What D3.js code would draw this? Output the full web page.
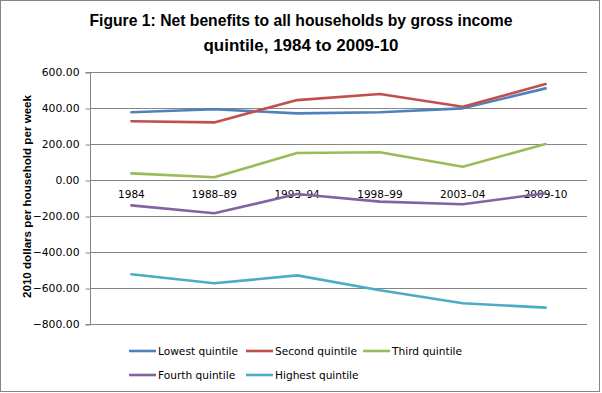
<!DOCTYPE html>
<html><head><meta charset="utf-8">
<script src="https://cdn.jsdelivr.net/npm/d3@7"></script>
<style>body{margin:0;background:#fff}svg{display:block}</style>
</head><body><svg id="c" width="602" height="393"></svg>
<script>
const categories = ["1984","1988–89","1993–94","1998–99","2003–04","2009-10"];
const seriesNames = ["Lowest quintile","Second quintile","Third quintile","Fourth quintile","Highest quintile"];
const lowest  = [376, 393, 370, 376, 398, 509];
const second  = [326, 320, 444, 478, 407, 533];
const third   = [37, 15, 150, 154, 74, 200];
const fourth  = [-141, -185, -78, -120, -135, -74];
const highest = [-524, -574, -530, -612, -685, -709];
const yTicks = [600, 400, 200, 0, -200, -400, -600, -800];
const colors = ["#4F81BD","#C0504D","#9BBB59","#8064A2","#4BACC6"];
const titleLines = ["Figure 1: Net benefits to all households by gross income","quintile, 1984 to 2009-10"];
const yTitle = "2010 dollars  per household  per week";

const series = [lowest, second, third, fourth, highest];
const svg = d3.select("#c");
const W = 602, H = 393;
const L = 90, R = 587, T = 72, B = 324;

svg.append("rect").attr("x",0.5).attr("y",0.5).attr("width",599).attr("height",391)
  .attr("fill","#fff").attr("stroke","#868686");

const x = d3.scaleBand().domain(categories).range([L, R]);
const y = d3.scaleLinear().domain([-800, 600]).range([B, T]);

// gridlines
svg.append("g").selectAll("line").data(yTicks).join("line")
  .attr("x1", L).attr("x2", R)
  .attr("y1", d => Math.round(y(d)) + 0.5).attr("y2", d => Math.round(y(d)) + 0.5)
  .attr("stroke", "#868686").attr("stroke-width", 1);

// y axis
const yAxis = d3.axisLeft(y).tickValues(yTicks).tickFormat(d3.format(".2f")).tickSize(5).tickPadding(6);
const gy = svg.append("g").attr("transform", `translate(${L+0.5},0.5)`).call(yAxis);
gy.select(".domain").attr("stroke","#868686").attr("d", `M-5,${y(600)}H0V${y(-800)}H-5`);
gy.selectAll(".tick line").attr("stroke","#868686");
gy.selectAll(".tick text").attr("font-family","'DejaVu Sans', Verdana, sans-serif")
  .attr("font-size","10.8px").attr("fill","#000");

// x axis labels at zero
const xAxis = d3.axisBottom(x).tickSize(0).tickPadding(11);
const gx = svg.append("g").attr("transform", `translate(0,${y(0)})`).call(xAxis);
gx.select(".domain").remove();
gx.selectAll(".tick text").attr("font-family","'DejaVu Sans', Verdana, sans-serif")
  .attr("font-size","10.5px").attr("fill","#000");

// lines
const line = d3.line().x((d,i) => x(categories[i]) + x.bandwidth()/2).y(d => y(d));
svg.append("g").selectAll("path").data(series).join("path")
  .attr("d", d => line(d)).attr("fill","none")
  .attr("stroke", (d,i) => colors[i]).attr("stroke-width", 2.6)
  .attr("stroke-linejoin","round").attr("stroke-linecap","round");

// title
const tl = [{t:titleLines[0], y:26, w:423},{t:titleLines[1], y:51, w:195}];
svg.append("g").selectAll("text").data(tl).join("text")
  .attr("x", W/2).attr("y", d => d.y).attr("text-anchor","middle")
  .attr("font-family","'Liberation Sans', Arial, sans-serif").attr("font-weight","bold")
  .attr("font-size","16.5px").attr("fill","#000")
  .attr("textLength", d => d.w).attr("lengthAdjust","spacingAndGlyphs")
  .text(d => d.t);

// y title
svg.append("text").attr("transform","translate(31,196.5) rotate(-90)")
  .attr("text-anchor","middle").attr("font-family","'Liberation Sans', Arial, sans-serif")
  .attr("font-weight","bold").attr("font-size","11px")
  .attr("textLength",203).attr("lengthAdjust","spacingAndGlyphs")
  .text(yTitle);

// legend
const legPos = [[129,351],[246,351],[363,351],[129,375],[246,375]];
const lg = svg.append("g").selectAll("g").data(seriesNames).join("g")
  .attr("transform",(d,i) => `translate(${legPos[i][0]},${legPos[i][1]})`);
lg.append("line").attr("x1",0).attr("x2",27).attr("y1",0).attr("y2",0)
  .attr("stroke",(d,i)=>colors[i]).attr("stroke-width",2.6);
lg.append("text").attr("x",29).attr("y",0).attr("dy","0.36em")
  .attr("font-family","'DejaVu Sans', Verdana, sans-serif").attr("font-size","10.6px")
  .attr("fill","#000").text(d => d);
</script></body></html>
